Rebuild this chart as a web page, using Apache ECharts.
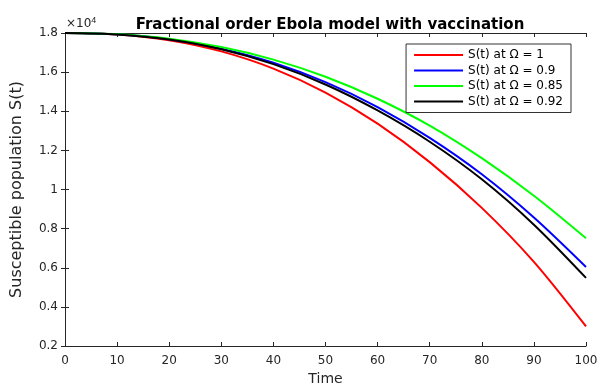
<!DOCTYPE html>
<html><head><meta charset="utf-8">
<script src="https://cdn.jsdelivr.net/npm/echarts@6/dist/echarts.min.js"></script>
<style>html,body{margin:0;padding:0;background:#fff}#c{width:597px;height:383px}</style>
</head><body><div id="c"></div>
<script>
const timePoints = [0, 10, 20, 30, 40, 50, 60, 70, 80, 90, 100];
const sOmega1    = [18000, 17925, 17630, 17060, 16180, 14955, 13365, 11400, 9060, 6300, 3000];
const sOmega090  = [18000, 17933, 17680, 17200, 16480, 15486, 14210, 12640, 10780, 8570, 6040];
const sOmega085  = [18000, 17938, 17710, 17280, 16640, 15765, 14640, 13265, 11600, 9680, 7510];
const sOmega092  = [18000, 17929, 17664, 17166, 16407, 15368, 14040, 12440, 10520, 8200, 5480];
const seriesNames = ['S(t) at Ω = 1', 'S(t) at Ω = 0.9', 'S(t) at Ω = 0.85', 'S(t) at Ω = 0.92'];
const seriesColors = ['#ff0000', '#0000ff', '#00ff00', '#000000'];
const seriesData = [sOmega1, sOmega090, sOmega085, sOmega092];

const chart = echarts.init(document.getElementById('c'));
const font = 'DejaVu Sans, Liberation Sans, Arial, sans-serif';
const axisCol = '#262626';

const series = seriesData.map((d, i) => ({
  name: seriesNames[i], type: 'line', data: timePoints.map((t, j) => [t, d[j]]),
  smooth: 0.3, showSymbol: false, lineStyle: {color: seriesColors[i], width: 2},
  itemStyle: {color: seriesColors[i]}, z: i === 3 ? 5 : 3, animation: false
}));

const yLab = v => String(+(v / 1e4).toFixed(1));
const tickCommon = {show: true, inside: true, length: 4, lineStyle: {color: axisCol}};
chart.setOption({
  animation: false,
  title: {text: 'Fractional order Ebola model with vaccination', left: 325, top: 13, textAlign: 'center',
    textStyle: {fontFamily: font, fontSize: 15, fontWeight: 'bold', color: '#000'}},
  grid: {left: 65, right: 11, top: 33, bottom: 37, containLabel: false, outerBoundsMode: 'none'},
  legend: {
    right: 26, top: 44, orient: 'vertical', itemWidth: 49, itemHeight: 2, itemGap: 1.5,
    icon: 'rect', backgroundColor: '#fff', borderColor: '#333', borderWidth: 1, padding: [4, 8, 4, 8],
    textStyle: {fontFamily: font, fontSize: 12, color: '#000', lineHeight: 14},
    data: seriesNames
  },
  xAxis: [{
    type: 'value', min: 0, max: 100, interval: 10,
    name: 'Time', nameLocation: 'middle', nameGap: 24,
    nameTextStyle: {fontFamily: font, fontSize: 14, color: axisCol},
    axisLine: {show: true, lineStyle: {color: axisCol, width: 1}},
    axisTick: tickCommon,
    axisLabel: {fontFamily: font, fontSize: 12, color: axisCol, margin: 9},
    splitLine: {show: false}
  }, {
    type: 'value', min: 0, max: 100, interval: 10, position: 'top',
    axisLine: {show: true, lineStyle: {color: axisCol, width: 1}},
    axisTick: tickCommon, axisLabel: {show: false}, splitLine: {show: false}
  }],
  yAxis: [{
    type: 'value', min: 2000, max: 18000, interval: 2000,
    name: 'Susceptible population S(t)', nameLocation: 'middle', nameGap: 40,
    nameTextStyle: {fontFamily: font, fontSize: 16, color: axisCol},
    axisLine: {show: true, lineStyle: {color: axisCol, width: 1}},
    axisTick: tickCommon,
    axisLabel: {fontFamily: font, fontSize: 12, color: axisCol, margin: 7, formatter: yLab},
    splitLine: {show: false}
  }, {
    type: 'value', min: 2000, max: 18000, interval: 2000, position: 'right',
    axisLine: {show: true, lineStyle: {color: axisCol, width: 1}},
    axisTick: tickCommon, axisLabel: {show: false}, splitLine: {show: false}
  }],
  graphic: [{
    type: 'text', left: 66, top: 16,
    style: {text: '×10{s|4}', fontFamily: font, fontSize: 12, fill: axisCol,
      rich: {s: {fontSize: 9, verticalAlign: 'top', fill: axisCol, padding: [0, 0, 6, 0]}}}
  }],
  series: series
});
</script></body></html>
